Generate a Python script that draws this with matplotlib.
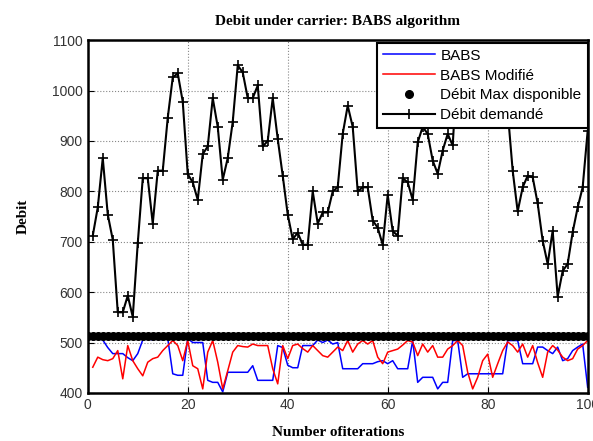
import numpy as np
import matplotlib
matplotlib.use("Agg")
import matplotlib.pyplot as plt

# iterations 1..100
iterations = np.arange(1, 101)

# Debit demande (black line with + markers); 74..84 sit behind the legend
debit_demande = [
    712, 768, 866, 754, 704, 560, 560, 593, 551, 697,
    826, 826, 736, 841, 841, 946, 1026, 1034, 978, 834,
    818, 783, 874, 889, 985, 928, 823, 866, 938, 1050,
    1036, 985, 985, 1010, 889, 900, 985, 904, 831, 754,
    705, 718, 694, 694, 800, 736, 758, 758, 800, 808,
    914, 970, 928, 800, 808, 808, 742, 728, 694, 793,
    721, 712, 826, 818, 783, 897, 928, 914, 861, 835,
    881, 914, 891, 1060, 1010, 980, 1020, 1050, 1000, 970,
    1000, 1040, 1070, 960, 841, 760, 808, 831, 828, 776,
    702, 656, 722, 591, 642, 656, 719, 768, 808, 920,
]

# BABS (blue)
babs = [
    505, 508, 505, 490, 478, 478, 478, 470, 464, 478,
    505, 508, 505, 508, 505, 508, 438, 435, 435, 508,
    500, 500, 500, 425, 421, 421, 402, 441, 441, 441,
    441, 441, 454, 425, 425, 425, 425, 494, 490, 455,
    450, 450, 494, 494, 494, 505, 500, 505, 497, 500,
    448, 448, 448, 448, 458, 458, 458, 462, 464, 458,
    464, 448, 448, 448, 504, 421, 431, 431, 431, 408,
    421, 421, 504, 504, 431, 438, 438, 438, 438, 438,
    438, 438, 438, 504, 504, 504, 458, 458, 458, 491,
    491, 484, 478, 491, 464, 468, 484, 491, 497, 411,
]

# BABS Modifie (red)
babs_modifie = [
    451, 471, 466, 464, 468, 484, 428, 494, 464, 448,
    434, 461, 468, 471, 484, 494, 504, 494, 464, 504,
    454, 448, 408, 481, 504, 461, 408, 444, 481, 494,
    492, 491, 497, 494, 494, 494, 448, 418, 494, 468,
    494, 497, 488, 481, 494, 484, 474, 471, 481, 491,
    484, 504, 481, 497, 504, 497, 504, 471, 458, 481,
    484, 487, 495, 504, 501, 474, 497, 481, 494, 471,
    471, 487, 494, 504, 494, 441, 408, 431, 464, 477,
    431, 458, 484, 501, 494, 481, 497, 471, 494, 460,
    431, 481, 494, 485, 471, 464, 468, 487, 494, 504,
]

# Debit max disponible (dots)
max_iter = np.arange(0, 101)
debit_max = 512

plt.rcParams['font.family'] = ['Liberation Sans', 'DejaVu Sans']

fig = plt.figure(figsize=(5.93, 4.41), dpi=100)
ax = fig.add_axes([0.148, 0.109, 0.843, 0.800])

ax.plot(iterations, babs, color=(0, 0, 1), lw=1.1, label='BABS')
ax.plot(iterations, babs_modifie, color=(1, 0, 0), lw=1.1, label='BABS Modifié')
ax.plot(max_iter, np.full(len(max_iter), debit_max), 'o', color='black',
        markersize=5.5, label='Débit Max disponible')
ax.plot(iterations, debit_demande, '-+', color='black', lw=1.5,
        markersize=7, markeredgewidth=1.2, label='Débit demandé')

ax.set_xlim(0, 100)
ax.set_ylim(400, 1100)
ax.set_xticks(np.arange(0, 101, 20))
ax.set_yticks(np.arange(400, 1101, 100))
ax.tick_params(direction='in', labelsize=10, labelcolor='#333333', length=4)
ax.grid(True, linestyle=':', color='#888888', linewidth=0.8)
for s in ax.spines.values():
    s.set_linewidth(1.8)

serif = ['Liberation Serif', 'DejaVu Serif']
ax.set_title('Debit under carrier: BABS algorithm', family=serif,
             fontweight='bold', fontsize=11, pad=11)
ax.set_xlabel('Number ofiterations', family=serif, fontweight='bold',
              fontsize=11, labelpad=10)
ax.set_ylabel('Debit', family=serif, fontweight='bold', fontsize=11,
              labelpad=16)

leg = ax.legend(loc='upper right', bbox_to_anchor=(1.0, 0.993),
                borderaxespad=0, fontsize=11, handlelength=3.4,
                handletextpad=0.35, labelspacing=0.38, borderpad=0.4,
                fancybox=False, framealpha=1)
leg.get_frame().set_edgecolor('black')
leg.get_frame().set_linewidth(1.5)

fig.savefig('out.png', dpi=100)
